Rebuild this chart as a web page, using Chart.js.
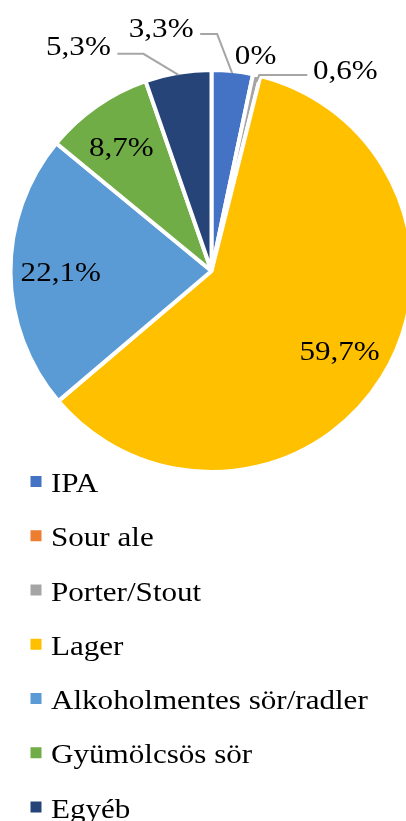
<!DOCTYPE html>
<html><head><meta charset="utf-8">
<script src="https://cdn.jsdelivr.net/npm/chart.js@4/dist/chart.umd.min.js"></script>
<style>html,body{margin:0;padding:0;background:#fff;overflow:hidden}#wrap{width:406px;height:821px;position:relative}</style>
</head><body><div id="wrap"><canvas id="c"></canvas></div>
<script>
// ---- data ----
const categories = ['IPA', 'Sour ale', 'Porter/Stout', 'Lager', 'Alkoholmentes sör/radler', 'Gyümölcsös sör', 'Egyéb'];
const shares = [3.3, 0, 0.6, 59.7, 22.1, 8.7, 5.3];
const colors = ['#4472C4', '#ED7D31', '#A5A5A5', '#FFC000', '#5B9BD5', '#70AD47', '#264478'];
const valueLabels = shares.map(v => String(v).replace('.', ',') + '%');

// ---- label placement (offsets from each slice's edge anchor / polar position) ----
const placement = [
  {out: true, line: [[0, 0], [-15, -39], [-32, -39]], label: [-71, -36]},
  {out: true, line: null, label: [3, -12]},
  {out: true, line: [[0, 5], [3, -2], [51, -2]], label: [89, 2]},
  {out: false, f: 0.75, label: [0, 9]},
  {out: false, f: 0.75, label: [0, 9]},
  {out: false, f: 0.75, label: [-4, 9]},
  {out: true, line: [[0, 0], [-35, -21], [-61, -21]], label: [-100, -20]}
];
const FONT = '28px "Liberation Serif", "Times New Roman", serif';
const SX = 1.11;

function stretchText(ctx, text, x, y, align) {
  ctx.save();
  ctx.translate(x, y);
  ctx.scale(SX, 1);
  ctx.textAlign = align;
  ctx.textBaseline = 'alphabetic';
  ctx.fillText(text, 0, 0);
  ctx.restore();
}

const labelPlugin = {
  id: 'sliceLabels',
  afterDatasetsDraw(chart) {
    const ctx = chart.ctx;
    const meta = chart.getDatasetMeta(0);
    ctx.save();
    ctx.font = FONT;
    ctx.fillStyle = '#000';
    meta.data.forEach((arc, i) => {
      const p = arc.getProps(['x', 'y', 'startAngle', 'endAngle', 'outerRadius'], true);
      const mid = (p.startAngle + p.endAngle) / 2;
      const c = Math.cos(mid), s = Math.sin(mid);
      const pl = placement[i];
      if (pl.out) {
        const ax = p.x + (p.outerRadius - 2) * c;
        const ay = p.y + (p.outerRadius - 2) * s;
        if (pl.line) {
          ctx.beginPath();
          ctx.strokeStyle = '#A6A6A6';
          ctx.lineWidth = 2;
          pl.line.forEach((pt, k) => {
            if (k === 0) ctx.moveTo(ax + pt[0], ay + pt[1]);
            else ctx.lineTo(ax + pt[0], ay + pt[1]);
          });
          ctx.stroke();
        }
        stretchText(ctx, valueLabels[i], ax + pl.label[0], ay + pl.label[1], 'center');
      } else {
        const r = p.outerRadius * pl.f;
        stretchText(ctx, valueLabels[i], p.x + r * c + pl.label[0], p.y + r * s + pl.label[1], 'center');
      }
    });
    ctx.restore();
  }
};

const legendPlugin = {
  id: 'listLegend',
  afterDraw(chart) {
    const ctx = chart.ctx;
    const top = 481.5, row = 54.25, boxX = 30.5, box = 11, textX = 51;
    ctx.save();
    ctx.font = FONT;
    categories.forEach((name, i) => {
      const cy = top + i * row;
      ctx.fillStyle = colors[i];
      ctx.fillRect(boxX, cy - box / 2, box, box);
      ctx.fillStyle = '#000';
      stretchText(ctx, name, textX, cy + 10.5, 'left');
    });
    ctx.restore();
  }
};

new Chart(document.getElementById('c'), {
  type: 'pie',
  data: {
    labels: categories,
    datasets: [{
      data: shares,
      backgroundColor: colors,
      borderColor: '#ffffff',
      borderWidth: 4,
      radius: 201
    }]
  },
  options: {
    responsive: true,
    maintainAspectRatio: false,
    animation: false,
    layout: {padding: {left: 17, right: 0, top: 72, bottom: 351}},
    plugins: {legend: {display: false}, tooltip: {enabled: false}}
  },
  plugins: [labelPlugin, legendPlugin]
});
</script>
</body></html>
